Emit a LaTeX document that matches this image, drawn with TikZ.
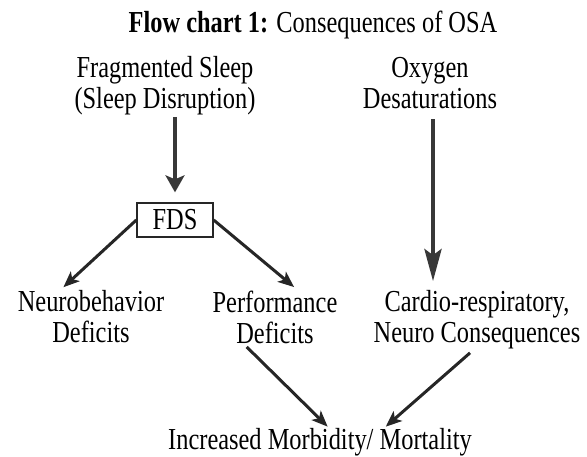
\documentclass[tikz,border=0pt]{standalone}
\usepackage{fontspec}
\setmainfont{Liberation Serif}[FakeStretch=0.8]
\usepackage{tikz}
\usetikzlibrary{arrows.meta,positioning,calc}

\begin{document}
\begin{tikzpicture}[
    x=1pt, y=-1pt,
    txt/.style={align=center, font=\fontsize{30.5}{31}\selectfont},
    fdsbox/.style={rectangle, draw=black!85, line width=1.3pt,
                minimum width=76pt, minimum height=34pt, inner sep=0pt,
                font=\fontsize{30.5}{31}\selectfont},
    arrowbig/.style={draw=black!78, line width=4.5pt,
                -{Stealth[length=17pt,width=19pt,inset=4pt]}},
    arrowlong/.style={draw=black!78, line width=4.5pt,
                -{Stealth[length=32pt,width=17pt,inset=6pt]}},
    arrowthin/.style={draw=black!85, line width=3pt,
                -{Stealth[length=16pt,width=13pt,inset=4pt]}},
]
\useasboundingbox (0,0) rectangle (587,457);

\node[txt, anchor=base] (title) at (313,33) {\textbf{Flow chart 1:} Consequences of OSA};

\node[txt] (frag) at (165,86) {Fragmented Sleep\\(Sleep Disruption)};
\node[txt] (oxy) at (430,83) {Oxygen\\Desaturations};

\node[fdsbox] (fds) at (175,220) {FDS};

\node[txt] (neuro) at (91,317) {Neurobehavior\\Deficits};
\node[txt] (perf) at (275,317) {Performance\\Deficits};
\node[txt] (cardio) at (477,320) {Cardio-respiratory,\\Neuro Consequences};

\node[txt, anchor=base, inner sep=1pt] (morb) at (320,449) {Increased Morbidity/ Mortality};

\draw[arrowbig, shorten <=-2pt, shorten >=10pt] (fds.north |- frag.south) -- (fds.north);
\draw[arrowlong, shorten <=7pt, shorten >=6pt] ($(oxy.south)+(3,0)$) -- ($(oxy.south |- cardio.north)+(3,0)$);

\draw[arrowthin] (fds.west) -- ($(neuro.north)!0.36!(neuro.north west)$);
\draw[arrowthin] (fds.east) -- ($(perf.north)!0.29!(perf.north east)$);

\draw[arrowthin] ($(perf.south)!0.43!(perf.south west)$) -- ($(morb.north)!0.05!(morb.north east)$);
\draw[arrowthin] ($(cardio.south)!0.065!(cardio.south west)$) -- ($(morb.north)!0.43!(morb.north east)$);

\end{tikzpicture}
\end{document}
